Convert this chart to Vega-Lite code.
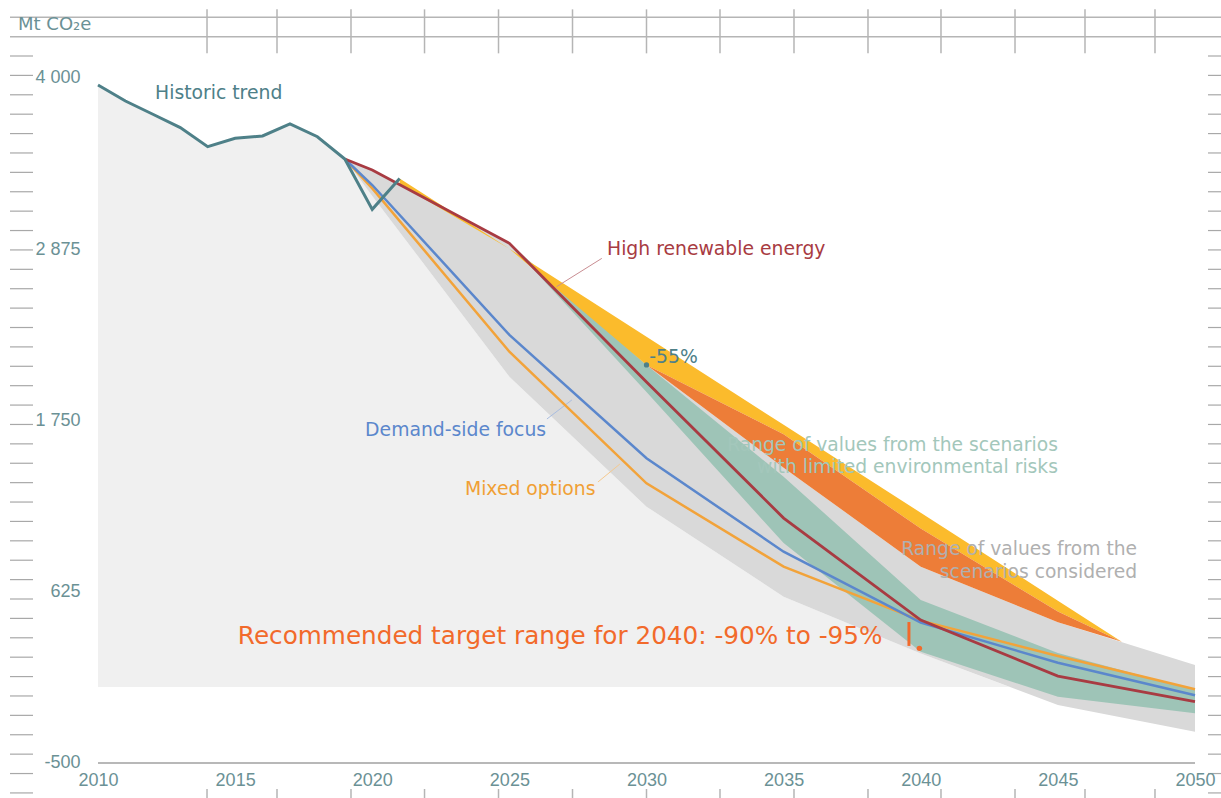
{
  "$schema": "https://vega.github.io/schema/vega-lite/v6.json",
  "width": 1221,
  "height": 798,
  "autosize": "none",
  "padding": 0,
  "background": "white",
  "config": {"view": {"stroke": null}, "axis": {"grid": false}},
  "resolve": {"axis": {"x": "independent", "y": "independent"}},
  "layer": [
    {
      "data": {"values": [
        {"year": 2010, "v": 3954}, {"year": 2011, "v": 3849}, {"year": 2012, "v": 3762},
        {"year": 2013, "v": 3674}, {"year": 2014, "v": 3549}, {"year": 2015, "v": 3604},
        {"year": 2016, "v": 3619}, {"year": 2017, "v": 3698}, {"year": 2018, "v": 3614},
        {"year": 2019, "v": 3468}, {"year": 2020, "v": 3225}, {"year": 2025, "v": 2038},
        {"year": 2030, "v": 1184}, {"year": 2035, "v": 592}, {"year": 2040, "v": 220},
        {"year": 2043.24, "v": 0}
      ]},
      "mark": {"type": "area", "color": "#f0f0f0"},
      "encoding": {
        "x": {"field": "year", "type": "quantitative",
              "scale": {"domain": [2006.4266, 2050.948], "nice": false, "zero": false},
              "axis": {"values": [2010, 2015, 2020, 2025, 2030, 2035, 2040, 2045, 2050], "orient": "bottom", "offset": -27,
                       "ticks": false, "domain": false, "labelPadding": 0, "labelFont": "Liberation Sans", "labelFontSize": 18,
                       "labelColor": "#6b9195", "title": null, "format": "d", "labelFlush": false, "labelOverlap": false, "zindex": 2}},
        "y": {"field": "v", "type": "quantitative",
              "scale": {"domain": [-730, 4512.4], "nice": false, "zero": false},
              "axis": {"values": [4000, 2875, 1750, 625, -500], "orient": "left", "offset": -80, "ticks": false, "domain": false,
                       "labelPadding": 0, "labelAlign": "right", "labelBaseline": "middle", "labelFont": "Liberation Sans",
                       "labelFontSize": 18, "labelColor": "#6b9195", "title": null, "labelFlush": false, "labelOverlap": false, "zindex": 2,
                       "labelExpr": "datum.value == 4000 ? '4 000' : datum.value == 2875 ? '2 875' : datum.value == 1750 ? '1 750' : datum.value == 625 ? '625' : '-500'"}},
        "y2": {"datum": 0}
      }
    },
    {
      "data": {"values": [
        {"year": 2019, "lo": 3468, "hi": 3468}, {"year": 2020, "lo": 3225, "hi": 3396},
        {"year": 2025, "lo": 2038, "hi": 2914}, {"year": 2030, "lo": 1184, "hi": 2115},
        {"year": 2035, "lo": 592, "hi": 1440}, {"year": 2040, "lo": 220, "hi": 790},
        {"year": 2045, "lo": -119, "hi": 425}, {"year": 2050, "lo": -294, "hi": 144}
      ]},
      "mark": {"type": "area", "color": "#d9d9d9"},
      "encoding": {
        "x": {"field": "year", "type": "quantitative", "scale": {"domain": [2006.4266, 2050.948], "nice": false, "zero": false}, "axis": null},
        "y": {"field": "lo", "type": "quantitative", "scale": {"domain": [-730, 4512.4], "nice": false, "zero": false}, "axis": null},
        "y2": {"field": "hi"}
      }
    },
    {
      "data": {"values": [
        {"year": 2025, "lo": 2914, "hi": 2914}, {"year": 2030, "lo": 1937, "hi": 2115},
        {"year": 2035, "lo": 945, "hi": 1381}, {"year": 2040, "lo": 231, "hi": 571},
        {"year": 2045, "lo": -65, "hi": 223}, {"year": 2050, "lo": -174, "hi": -20}
      ]},
      "mark": {"type": "area", "color": "#9ec4b7"},
      "encoding": {
        "x": {"field": "year", "type": "quantitative", "scale": {"domain": [2006.4266, 2050.948], "nice": false, "zero": false}, "axis": null},
        "y": {"field": "lo", "type": "quantitative", "scale": {"domain": [-730, 4512.4], "nice": false, "zero": false}, "axis": null},
        "y2": {"field": "hi"}
      }
    },
    {
      "data": {"values": [
        {"year": 2021, "lo": 3300, "hi": 3340}, {"year": 2025, "lo": 2878, "hi": 2878},
        {"year": 2030, "lo": 2115, "hi": 2300}, {"year": 2035, "lo": 1660, "hi": 1722},
        {"year": 2040, "lo": 1040, "hi": 1144}, {"year": 2045, "lo": 495, "hi": 566},
        {"year": 2047.33, "lo": 297, "hi": 297}
      ]},
      "mark": {"type": "area", "color": "#fbbb2c"},
      "encoding": {
        "x": {"field": "year", "type": "quantitative", "scale": {"domain": [2006.4266, 2050.948], "nice": false, "zero": false}, "axis": null},
        "y": {"field": "lo", "type": "quantitative", "scale": {"domain": [-730, 4512.4], "nice": false, "zero": false}, "axis": null},
        "y2": {"field": "hi"}
      }
    },
    {
      "data": {"values": [
        {"year": 2030, "lo": 2115, "hi": 2115}, {"year": 2035, "lo": 1440, "hi": 1660},
        {"year": 2040, "lo": 790, "hi": 1040}, {"year": 2045, "lo": 425, "hi": 495},
        {"year": 2047.33, "lo": 297, "hi": 297}
      ]},
      "mark": {"type": "area", "color": "#ed7d38"},
      "encoding": {
        "x": {"field": "year", "type": "quantitative", "scale": {"domain": [2006.4266, 2050.948], "nice": false, "zero": false}, "axis": null},
        "y": {"field": "lo", "type": "quantitative", "scale": {"domain": [-730, 4512.4], "nice": false, "zero": false}, "axis": null},
        "y2": {"field": "hi"}
      }
    },
    {
      "data": {"values": [
        {"year": 2045.0, "v": 1589, "t": "Range of values from the scenarios"},
        {"year": 2045.0, "v": 1445, "t": "with limited environmental risks"}
      ]},
      "mark": {"type": "text", "align": "right", "baseline": "middle", "font": "DejaVu Sans", "fontSize": 18.7, "color": "#a3c7bb"},
      "encoding": {
        "x": {"field": "year", "type": "quantitative", "scale": {"domain": [2006.4266, 2050.948], "nice": false, "zero": false}, "axis": null},
        "y": {"field": "v", "type": "quantitative", "scale": {"domain": [-730, 4512.4], "nice": false, "zero": false}, "axis": null},
        "text": {"field": "t"}
      }
    },
    {
      "data": {"values": [
        {"year": 2047.89, "v": 906, "t": "Range of values from the"},
        {"year": 2047.89, "v": 755, "t": "scenarios considered"}
      ]},
      "mark": {"type": "text", "align": "right", "baseline": "middle", "font": "DejaVu Sans", "fontSize": 18.7, "color": "#b0b0b0"},
      "encoding": {
        "x": {"field": "year", "type": "quantitative", "scale": {"domain": [2006.4266, 2050.948], "nice": false, "zero": false}, "axis": null},
        "y": {"field": "v", "type": "quantitative", "scale": {"domain": [-730, 4512.4], "nice": false, "zero": false}, "axis": null},
        "text": {"field": "t"}
      }
    },
    {
      "data": {"values": [{"x1": 2026.72, "x2": 2028.37, "y1": 2629, "y2": 2815}]},
      "mark": {"type": "rule", "strokeWidth": 1, "color": "#c98d92"},
      "encoding": {
        "x": {"field": "x1", "type": "quantitative", "scale": {"domain": [2006.4266, 2050.948], "nice": false, "zero": false}, "axis": null},
        "x2": {"field": "x2"},
        "y": {"field": "y1", "type": "quantitative", "scale": {"domain": [-730, 4512.4], "nice": false, "zero": false}, "axis": null},
        "y2": {"field": "y2"}
      }
    },
    {
      "data": {"values": [{"x1": 2026.37, "x2": 2027.28, "y1": 1760, "y2": 1885}]},
      "mark": {"type": "rule", "strokeWidth": 1, "color": "#a9bde0"},
      "encoding": {
        "x": {"field": "x1", "type": "quantitative", "scale": {"domain": [2006.4266, 2050.948], "nice": false, "zero": false}, "axis": null},
        "x2": {"field": "x2"},
        "y": {"field": "y1", "type": "quantitative", "scale": {"domain": [-730, 4512.4], "nice": false, "zero": false}, "axis": null},
        "y2": {"field": "y2"}
      }
    },
    {
      "data": {"values": [{"x1": 2028.23, "x2": 2029.03, "y1": 1346, "y2": 1464}]},
      "mark": {"type": "rule", "strokeWidth": 1, "color": "#f5c98f"},
      "encoding": {
        "x": {"field": "x1", "type": "quantitative", "scale": {"domain": [2006.4266, 2050.948], "nice": false, "zero": false}, "axis": null},
        "x2": {"field": "x2"},
        "y": {"field": "y1", "type": "quantitative", "scale": {"domain": [-730, 4512.4], "nice": false, "zero": false}, "axis": null},
        "y2": {"field": "y2"}
      }
    },
    {
      "data": {"values": [
        {"year": 2019, "v": 3468}, {"year": 2020, "v": 3275}, {"year": 2025, "v": 2202}, {"year": 2030, "v": 1337},
        {"year": 2035, "v": 790}, {"year": 2040, "v": 435}, {"year": 2045, "v": 203}, {"year": 2050, "v": -16}
      ]},
      "mark": {"type": "line", "color": "#f2a33a", "strokeWidth": 2.5},
      "encoding": {
        "x": {"field": "year", "type": "quantitative", "scale": {"domain": [2006.4266, 2050.948], "nice": false, "zero": false}, "axis": null},
        "y": {"field": "v", "type": "quantitative", "scale": {"domain": [-730, 4512.4], "nice": false, "zero": false}, "axis": null}
      }
    },
    {
      "data": {"values": [
        {"year": 2019, "v": 3468}, {"year": 2020, "v": 3297}, {"year": 2025, "v": 2312}, {"year": 2030, "v": 1502},
        {"year": 2035, "v": 888}, {"year": 2040, "v": 422}, {"year": 2045, "v": 159}, {"year": 2050, "v": -55}
      ]},
      "mark": {"type": "line", "color": "#5b87cc", "strokeWidth": 2.5},
      "encoding": {
        "x": {"field": "year", "type": "quantitative", "scale": {"domain": [2006.4266, 2050.948], "nice": false, "zero": false}, "axis": null},
        "y": {"field": "v", "type": "quantitative", "scale": {"domain": [-730, 4512.4], "nice": false, "zero": false}, "axis": null}
      }
    },
    {
      "data": {"values": [
        {"year": 2019, "v": 3468}, {"year": 2020, "v": 3396}, {"year": 2025, "v": 2914}, {"year": 2030, "v": 2003},
        {"year": 2035, "v": 1109}, {"year": 2040, "v": 439}, {"year": 2045, "v": 71}, {"year": 2050, "v": -97}
      ]},
      "mark": {"type": "line", "color": "#a83b42", "strokeWidth": 2.8},
      "encoding": {
        "x": {"field": "year", "type": "quantitative", "scale": {"domain": [2006.4266, 2050.948], "nice": false, "zero": false}, "axis": null},
        "y": {"field": "v", "type": "quantitative", "scale": {"domain": [-730, 4512.4], "nice": false, "zero": false}, "axis": null}
      }
    },
    {
      "data": {"values": [
        {"year": 2010, "v": 3954}, {"year": 2011, "v": 3849}, {"year": 2012, "v": 3762},
        {"year": 2013, "v": 3674}, {"year": 2014, "v": 3549}, {"year": 2015, "v": 3604},
        {"year": 2016, "v": 3619}, {"year": 2017, "v": 3698}, {"year": 2018, "v": 3614},
        {"year": 2019, "v": 3468}, {"year": 2020, "v": 3137}, {"year": 2021, "v": 3340}
      ]},
      "mark": {"type": "line", "color": "#4e8088", "strokeWidth": 3},
      "encoding": {
        "x": {"field": "year", "type": "quantitative", "scale": {"domain": [2006.4266, 2050.948], "nice": false, "zero": false}, "axis": null},
        "y": {"field": "v", "type": "quantitative", "scale": {"domain": [-730, 4512.4], "nice": false, "zero": false}, "axis": null}
      }
    },
    {
      "data": {"values": [{"year": 2030, "v": 2115}]},
      "mark": {"type": "circle", "color": "#4e8088", "size": 28, "opacity": 1},
      "encoding": {
        "x": {"field": "year", "type": "quantitative", "scale": {"domain": [2006.4266, 2050.948], "nice": false, "zero": false}, "axis": null},
        "y": {"field": "v", "type": "quantitative", "scale": {"domain": [-730, 4512.4], "nice": false, "zero": false}, "axis": null}
      }
    },
    {
      "data": {"values": [
        {"year": 2012.08, "v": 3901, "t": "Historic trend"},
        {"year": 2030.1, "v": 2167, "t": "-55%"}
      ]},
      "mark": {"type": "text", "align": "left", "baseline": "middle", "font": "DejaVu Sans", "fontSize": 18.8, "color": "#4e8088"},
      "encoding": {
        "x": {"field": "year", "type": "quantitative", "scale": {"domain": [2006.4266, 2050.948], "nice": false, "zero": false}, "axis": null},
        "y": {"field": "v", "type": "quantitative", "scale": {"domain": [-730, 4512.4], "nice": false, "zero": false}, "axis": null},
        "text": {"field": "t"}
      }
    },
    {
      "data": {"values": [{"year": 2028.56, "v": 2877, "t": "High renewable energy"}]},
      "mark": {"type": "text", "align": "left", "baseline": "middle", "font": "DejaVu Sans", "fontSize": 18.8, "color": "#a83b42"},
      "encoding": {
        "x": {"field": "year", "type": "quantitative", "scale": {"domain": [2006.4266, 2050.948], "nice": false, "zero": false}, "axis": null},
        "y": {"field": "v", "type": "quantitative", "scale": {"domain": [-730, 4512.4], "nice": false, "zero": false}, "axis": null},
        "text": {"field": "t"}
      }
    },
    {
      "data": {"values": [{"year": 2019.74, "v": 1687, "t": "Demand-side focus"}]},
      "mark": {"type": "text", "align": "left", "baseline": "middle", "font": "DejaVu Sans", "fontSize": 18.8, "color": "#5b87cc"},
      "encoding": {
        "x": {"field": "year", "type": "quantitative", "scale": {"domain": [2006.4266, 2050.948], "nice": false, "zero": false}, "axis": null},
        "y": {"field": "v", "type": "quantitative", "scale": {"domain": [-730, 4512.4], "nice": false, "zero": false}, "axis": null},
        "text": {"field": "t"}
      }
    },
    {
      "data": {"values": [{"year": 2023.38, "v": 1300, "t": "Mixed options"}]},
      "mark": {"type": "text", "align": "left", "baseline": "middle", "font": "DejaVu Sans", "fontSize": 18.8, "color": "#f0a035"},
      "encoding": {
        "x": {"field": "year", "type": "quantitative", "scale": {"domain": [2006.4266, 2050.948], "nice": false, "zero": false}, "axis": null},
        "y": {"field": "v", "type": "quantitative", "scale": {"domain": [-730, 4512.4], "nice": false, "zero": false}, "axis": null},
        "text": {"field": "t"}
      }
    },
    {
      "data": {"values": [{"year": 2015.1, "v": 328, "t": "Recommended target range for 2040: -90% to -95%"}]},
      "mark": {"type": "text", "align": "left", "baseline": "middle", "font": "DejaVu Sans", "fontSize": 24.7, "color": "#f26a2b"},
      "encoding": {
        "x": {"field": "year", "type": "quantitative", "scale": {"domain": [2006.4266, 2050.948], "nice": false, "zero": false}, "axis": null},
        "y": {"field": "v", "type": "quantitative", "scale": {"domain": [-730, 4512.4], "nice": false, "zero": false}, "axis": null},
        "text": {"field": "t"}
      }
    },
    {
      "data": {"values": [{"year": 2039.57, "lo": 269, "hi": 426}]},
      "mark": {"type": "rule", "color": "#f26a2b", "strokeWidth": 3},
      "encoding": {
        "x": {"field": "year", "type": "quantitative", "scale": {"domain": [2006.4266, 2050.948], "nice": false, "zero": false}, "axis": null},
        "y": {"field": "lo", "type": "quantitative", "scale": {"domain": [-730, 4512.4], "nice": false, "zero": false}, "axis": null},
        "y2": {"field": "hi"}
      }
    },
    {
      "data": {"values": [{"year": 2039.95, "v": 253}]},
      "mark": {"type": "circle", "color": "#f26a2b", "size": 30, "opacity": 1},
      "encoding": {
        "x": {"field": "year", "type": "quantitative", "scale": {"domain": [2006.4266, 2050.948], "nice": false, "zero": false}, "axis": null},
        "y": {"field": "v", "type": "quantitative", "scale": {"domain": [-730, 4512.4], "nice": false, "zero": false}, "axis": null}
      }
    },
    {
      "data": {"values": [{"v": -500}]},
      "mark": {"type": "rule", "color": "#a0a0a0", "strokeWidth": 1.5},
      "encoding": {
        "x": {"datum": 2010, "type": "quantitative", "scale": {"domain": [2006.4266, 2050.948], "nice": false, "zero": false}, "axis": null},
        "x2": {"datum": 2050},
        "y": {"field": "v", "type": "quantitative", "scale": {"domain": [-730, 4512.4], "nice": false, "zero": false}, "axis": null}
      }
    },
    {
      "data": {"values": [{"v": 4399}, {"v": 4271}]},
      "mark": {"type": "rule", "color": "#b5b5b5", "strokeWidth": 1.5},
      "encoding": {
        "x": {"datum": 2006.791, "type": "quantitative", "scale": {"domain": [2006.4266, 2050.948], "nice": false, "zero": false}, "axis": null},
        "x2": {"datum": 2050.948},
        "y": {"field": "v", "type": "quantitative", "scale": {"domain": [-730, 4512.4], "nice": false, "zero": false}, "axis": null}
      }
    },
    {
      "data": {"values": [
        {"year": 2013.975}, {"year": 2016.527}, {"year": 2019.225}, {"year": 2021.906}, {"year": 2024.604},
        {"year": 2027.302}, {"year": 2030.0}, {"year": 2032.68}, {"year": 2035.378}, {"year": 2038.076},
        {"year": 2040.738}, {"year": 2043.437}, {"year": 2045.989}, {"year": 2048.541}
      ]},
      "layer": [
        {
          "mark": {"type": "rule", "color": "#b5b5b5", "strokeWidth": 1.5},
          "encoding": {
            "x": {"field": "year", "type": "quantitative", "scale": {"domain": [2006.4266, 2050.948], "nice": false, "zero": false}, "axis": null},
            "y": {"datum": 4162, "type": "quantitative", "scale": {"domain": [-730, 4512.4], "nice": false, "zero": false}, "axis": null},
            "y2": {"datum": 4451}
          }
        },
        {
          "mark": {"type": "rule", "color": "#b5b5b5", "strokeWidth": 1.5},
          "encoding": {
            "x": {"field": "year", "type": "quantitative", "scale": {"domain": [2006.4266, 2050.948], "nice": false, "zero": false}, "axis": null},
            "y": {"datum": -671, "type": "quantitative", "scale": {"domain": [-730, 4512.4], "nice": false, "zero": false}, "axis": null},
            "y2": {"datum": -730}
          }
        }
      ]
    },
    {
      "data": {"values": [
        {"v": 4144.5}, {"v": 4017.1}, {"v": 3889.7}, {"v": 3762.3}, {"v": 3634.9}, {"v": 3507.5}, {"v": 3380.1},
        {"v": 3252.7}, {"v": 3125.3}, {"v": 2997.9}, {"v": 2870.5}, {"v": 2743.1}, {"v": 2615.7}, {"v": 2488.3},
        {"v": 2360.9}, {"v": 2233.5}, {"v": 2106.1}, {"v": 1978.7}, {"v": 1851.3}, {"v": 1723.9}, {"v": 1596.5},
        {"v": 1469.1}, {"v": 1341.7}, {"v": 1214.3}, {"v": 1086.9}, {"v": 959.5}, {"v": 832.1}, {"v": 704.7},
        {"v": 577.3}, {"v": 449.9}, {"v": 322.5}, {"v": 195.1}, {"v": 67.7}, {"v": -59.7}, {"v": -187.1},
        {"v": -314.5}, {"v": -441.9}, {"v": -569.3}, {"v": -696.7}
      ]},
      "layer": [
        {
          "mark": {"type": "rule", "color": "#a8a8a8", "strokeWidth": 1.2},
          "encoding": {
            "x": {"datum": 2006.791, "type": "quantitative", "scale": {"domain": [2006.4266, 2050.948], "nice": false, "zero": false}, "axis": null},
            "x2": {"datum": 2007.63},
            "y": {"field": "v", "type": "quantitative", "scale": {"domain": [-730, 4512.4], "nice": false, "zero": false}, "axis": null}
          }
        },
        {
          "mark": {"type": "rule", "color": "#a8a8a8", "strokeWidth": 1.2},
          "encoding": {
            "x": {"datum": 2050.474, "type": "quantitative", "scale": {"domain": [2006.4266, 2050.948], "nice": false, "zero": false}, "axis": null},
            "x2": {"datum": 2050.948},
            "y": {"field": "v", "type": "quantitative", "scale": {"domain": [-730, 4512.4], "nice": false, "zero": false}, "axis": null}
          }
        }
      ]
    },
    {
      "data": {"values": [{"year": 2007.083, "v": 4318, "t": "Mt CO₂e"}]},
      "mark": {"type": "text", "align": "left", "baseline": "alphabetic", "font": "DejaVu Sans", "fontSize": 18, "color": "#6b9195"},
      "encoding": {
        "x": {"field": "year", "type": "quantitative", "scale": {"domain": [2006.4266, 2050.948], "nice": false, "zero": false}, "axis": null},
        "y": {"field": "v", "type": "quantitative", "scale": {"domain": [-730, 4512.4], "nice": false, "zero": false}, "axis": null},
        "text": {"field": "t"}
      }
    }
  ]
}
